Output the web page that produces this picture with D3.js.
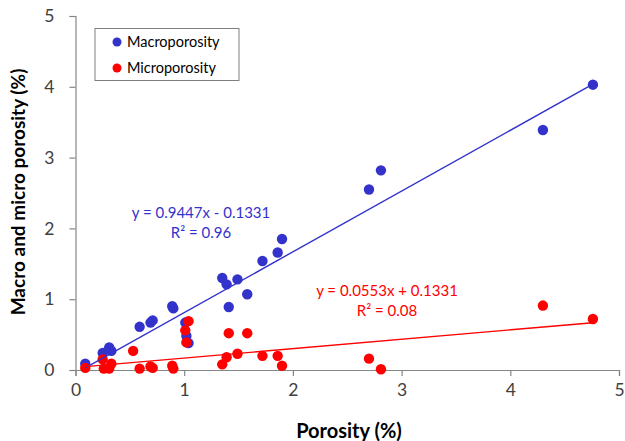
<!DOCTYPE html>
<html><head><meta charset="utf-8">
<script src="https://cdn.jsdelivr.net/npm/d3@7"></script>
<style>body{margin:0;background:#fff}svg{display:block}</style>
</head><body>
<script>
// ---- data ----
const macroX = [0.09,0.25,0.31,0.33,0.59,0.69,0.71,0.89,0.90,1.01,1.02,1.04,1.35,1.39,1.41,1.49,1.58,1.72,1.86,1.90,2.70,2.81,4.30,4.76];
const macroY = [0.09,0.24,0.32,0.27,0.61,0.67,0.70,0.90,0.87,0.67,0.48,0.38,1.30,1.21,0.89,1.28,1.07,1.54,1.66,1.85,2.55,2.82,3.39,4.03];
const microX = [0.09,0.25,0.26,0.31,0.33,0.53,0.59,0.69,0.71,0.89,0.90,1.01,1.02,1.04,1.35,1.39,1.41,1.49,1.58,1.72,1.86,1.90,2.70,2.81,4.30,4.76];
const microY = [0.03,0.15,0.02,0.02,0.09,0.27,0.02,0.05,0.03,0.06,0.02,0.56,0.39,0.69,0.08,0.18,0.52,0.23,0.52,0.20,0.20,0.06,0.16,0.01,0.91,0.72];
const seriesNames = ["Macroporosity","Microporosity"];
const trendSlope = [0.858, 0.133];
const trendIntercept = [-0.047, 0.035];
const equationText = ["y = 0.9447x - 0.1331","y = 0.0553x + 0.1331"];
const r2Text = ["R\u00b2 = 0.96","R\u00b2 = 0.08"];
const xTicks = [0,1,2,3,4,5];
const yTicks = [0,1,2,3,4,5];
const xTitle = "Porosity (%)";
const yTitle = "Macro and micro porosity (%)";

// ---- layout ----
const W = 625, H = 441;
const colors = ["#3333CC", "#FF0000"];
const font = "Lato, 'Open Sans', sans-serif";
const svg = d3.select("body").append("svg").attr("width", W).attr("height", H);
const x = d3.scaleLinear().domain([0,5]).range([75.5, 619]);
const y = d3.scaleLinear().domain([0,5]).range([370, 16]);

const xAxis = svg.append("g").attr("transform", "translate(0,370)")
  .call(d3.axisBottom(x).tickValues(xTicks).tickSizeOuter(0).tickSize(6).tickPadding(8).tickFormat(d3.format("d")));
const yAxis = svg.append("g").attr("transform", "translate(75.5,0)")
  .call(d3.axisLeft(y).tickValues(yTicks).tickSizeOuter(0).tickSize(6).tickPadding(15).tickFormat(d3.format("d")));
[xAxis, yAxis].forEach(g => {
  g.select(".domain").attr("stroke", "#868686").attr("stroke-width", 1.2);
  g.selectAll(".tick line").attr("stroke", "#868686").attr("stroke-width", 1.2);
  g.selectAll(".tick text").attr("fill", "#404040").style("font-family", font).style("font-size", "17.5px");
});

// data points
const series = [
  d3.zip(macroX, macroY),
  d3.zip(microX, microY)
];
series.forEach((pts, i) => {
  svg.append("g").selectAll("circle").data(pts).join("circle")
    .attr("cx", d => x(d[0])).attr("cy", d => y(d[1])).attr("r", 5.2)
    .attr("fill", colors[i]);
});

// trend lines
series.forEach((pts, i) => {
  const xs = d3.extent(pts, d => d[0]);
  svg.append("line")
    .attr("x1", x(xs[0])).attr("y1", y(trendSlope[i]*xs[0] + trendIntercept[i]))
    .attr("x2", x(xs[1])).attr("y2", y(trendSlope[i]*xs[1] + trendIntercept[i]))
    .attr("stroke", colors[i]).attr("stroke-width", 1.4);
});

// equation labels
const eqPos = [[201, 218, 238], [387, 296, 316]];
eqPos.forEach((p, i) => {
  svg.append("text").attr("x", p[0]).attr("y", p[1]).attr("text-anchor", "middle")
    .attr("fill", colors[i]).style("font-family", font).style("font-size", "15px").text(equationText[i]);
  svg.append("text").attr("x", p[0]).attr("y", p[2]).attr("text-anchor", "middle")
    .attr("fill", colors[i]).style("font-family", font).style("font-size", "15px").text(r2Text[i]);
});

// axis titles
svg.append("text").attr("x", 349).attr("y", 438).attr("text-anchor", "middle")
  .style("font-family", font).style("font-size", "20px").style("font-weight", "bold").attr("fill", "#000")
  .text(xTitle);
svg.append("text").attr("transform", "translate(25,192) rotate(-90)").attr("text-anchor", "middle")
  .style("font-family", font).style("font-size", "19px").style("font-weight", "bold").attr("fill", "#000")
  .text(yTitle);

// legend
const lg = svg.append("g");
lg.append("rect").attr("x", 95).attr("y", 28.5).attr("width", 144).attr("height", 52)
  .attr("fill", "#fff").attr("stroke", "#7f7f7f").attr("stroke-width", 1);
seriesNames.forEach((n, i) => {
  const cy = 42 + i*26;
  lg.append("circle").attr("cx", 117).attr("cy", cy).attr("r", 4.5).attr("fill", colors[i]);
  lg.append("text").attr("x", 127).attr("y", cy + 5).attr("fill", "#000")
    .style("font-family", font).style("font-size", "14.5px").text(n);
});
</script>
</body></html>
